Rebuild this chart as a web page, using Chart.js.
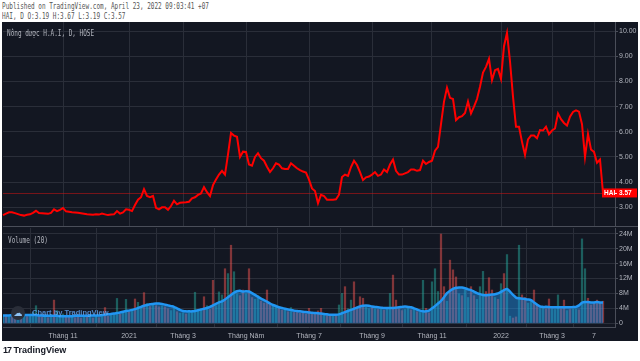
<!DOCTYPE html>
<html><head><meta charset="utf-8">
<script src="https://cdn.jsdelivr.net/npm/chart.js@4"></script>
<style>
html,body{margin:0;padding:0;background:#fff;width:640px;height:361px;overflow:hidden;position:relative;font-family:"DejaVu Sans Mono",monospace}
.t{position:absolute;white-space:nowrap;font-size:9px;line-height:10px;transform-origin:0 0;transform:scaleX(0.67);color:#555}
#frame{position:absolute;left:2px;top:22px;width:636px;height:319px;background:#131722}
.wrap{position:absolute;left:0;width:640px}
#sep{position:absolute;left:3px;top:226px;width:635px;height:1px;background:#4a4e59}
#wm{position:absolute;left:11px;top:306px;width:14px;height:14px;border-radius:7px;background:#2a2e39;color:#8fc3f5;font:9px "DejaVu Sans";line-height:14px;text-align:center}
#wmt{position:absolute;left:32px;top:308px;font:bold 7.5px "Liberation Sans";color:rgba(100,165,240,0.8);white-space:nowrap}
#logo{position:absolute;left:3px;top:345px;font:bold 9px "Liberation Sans";color:#131722;white-space:nowrap}
</style></head><body>
<div class="t" style="left:2px;top:1px">Published on TradingView.com, April 23, 2022 09:03:41 +07</div>
<div class="t" style="left:2px;top:11px">HAI, D O:3.19 H:3.67 L:3.19 C:3.57</div>
<div id="frame"></div>
<div class="wrap" style="top:22px;height:205px"><canvas id="c1"></canvas></div>
<div class="wrap" style="top:227px;height:114px"><canvas id="c2"></canvas></div>
<div id="sep"></div>
<div class="t" style="left:7px;top:28px;color:#b2b5be">Nông dược H.A.I, D, HOSE</div>
<div class="t" style="left:8px;top:235px;color:#b2b5be">Volume (20)</div>
<div id="wm">☁</div>
<div id="wmt">Chart by TradingView</div>
<div id="logo"><span style="letter-spacing:-1px">17</span> TradingView</div>
<script>
const symbol = "HAI";
const lastPrice = 3.57;
const prices = [
2.69,2.75,2.80,2.80,2.77,2.73,2.69,2.67,2.70,2.72,
2.78,2.86,2.77,2.76,2.75,2.74,2.78,2.92,2.85,2.90,
2.97,2.84,2.82,2.80,2.79,2.78,2.76,2.74,2.72,2.71,
2.70,2.72,2.71,2.75,2.72,2.69,2.71,2.72,2.85,2.75,
2.80,2.92,2.90,2.85,3.09,3.30,3.40,3.72,3.45,3.40,
3.45,2.98,2.92,3.00,3.00,2.90,3.05,3.26,3.12,3.18,
3.19,3.20,3.22,3.36,3.40,3.49,3.55,3.80,3.60,3.45,
3.88,4.10,4.30,4.45,4.30,5.10,5.95,5.85,5.80,5.00,
5.21,5.20,4.70,4.65,5.00,5.15,4.95,4.85,4.61,4.40,
4.55,4.75,4.70,4.55,4.52,4.52,4.75,4.65,4.55,4.48,
4.42,4.38,4.10,3.75,3.65,3.16,3.50,3.45,3.30,3.30,
3.30,3.32,3.50,4.20,4.30,4.25,4.60,4.85,4.68,4.40,
4.08,4.19,4.22,4.30,4.40,4.25,4.30,4.50,4.40,4.70,
4.90,4.45,4.30,4.30,4.35,4.40,4.50,4.50,4.45,4.48,
4.85,4.72,4.80,4.85,5.25,5.40,6.30,7.20,7.75,7.35,
7.30,6.46,6.58,6.62,6.75,7.20,6.73,7.00,7.30,7.79,
8.35,8.58,8.90,8.05,8.45,8.50,8.10,9.40,9.93,8.80,
7.40,6.20,6.20,5.60,5.08,5.70,5.85,5.85,5.74,6.07,
6.05,6.20,5.90,6.05,6.13,6.73,6.50,6.35,6.25,6.60,
6.79,6.85,6.80,6.30,5.00,5.91,5.30,5.20,4.77,4.90,
3.57];
const volumes = [ // millions
2.0,2.4,1.8,2.2,1.6,2.0,1.7,2.3,1.9,2.5,
3.0,4.8,2.2,1.8,2.0,1.6,2.4,6.3,3.5,2.2,
2.6,1.8,1.7,2.0,1.6,1.9,1.5,2.1,1.7,1.8,
1.5,2.0,1.6,2.3,4.3,2.0,2.2,2.8,6.75,2.5,
3.0,6.5,3.2,3.5,6.6,5.7,4.5,8.3,5.4,4.6,
5.0,4.8,4.5,4.8,4.5,4.0,3.5,4.2,3.2,2.8,
2.9,2.6,3.0,3.2,8.4,3.5,3.6,7.2,4.8,3.8,
11.6,4.8,8.5,7.7,14.7,13.4,21.0,13.9,8.0,7.5,
9.0,8.0,14.7,7.0,6.5,7.5,6.0,5.5,9.0,5.5,
4.8,5.0,4.2,3.6,3.8,3.2,4.3,3.0,3.0,2.8,
3.2,2.6,4.1,2.5,2.8,3.4,4.1,2.5,2.2,2.0,
2.1,2.0,5.0,8.1,9.9,4.0,6.3,11.2,4.5,7.2,
6.8,4.5,4.0,4.3,4.0,3.8,4.2,3.6,4.0,8.1,
13.0,6.3,4.0,3.5,3.8,4.2,3.7,3.8,3.2,3.0,
11.6,4.1,2.9,11.2,14.7,8.6,24.0,9.9,6.0,17.0,
14.4,12.5,8.0,7.5,9.0,7.0,9.9,7.5,6.5,9.9,
14.0,8.6,12.3,9.0,7.0,6.5,10.7,13.4,18.5,2.0,
1.5,1.8,21.0,7.7,7.0,5.5,6.0,9.0,5.0,4.0,
4.5,4.0,6.6,4.0,3.8,7.7,4.0,6.3,3.5,3.8,
4.0,3.9,3.7,22.7,14.7,6.8,5.0,5.5,6.3,5.5,
6.0];
const volDir = ("ududdududu"+"uuddududuu"+"uddudddudu"+"dududduuud"+"uududuudud"+
"uddudduudu"+"uduuuuudud"+"duuududuud"+"dudduudddd"+"uuddududdd"+
"dddddddudd"+"uduuduuddd"+"duudududuu"+"dddduududu"+"udduuuddud"+
"dduduudduu"+"udddududuu"+"ddudduuddu"+"udduuuddud"+"uuduuddddd"+"d").split("");
const volMA = [ // 20-day moving average of volume, millions
2.1,2.1,2.1,2.2,2.2,2.2,2.2,2.2,2.2,2.2,
2.2,2.2,2.1,2.1,2.0,2.0,2.0,2.0,2.0,1.9,
1.9,1.9,1.9,1.9,2.0,2.0,2.0,2.0,2.0,2.1,
2.1,2.1,2.1,2.2,2.3,2.4,2.5,2.6,2.75,2.9,
3.1,3.3,3.4,3.6,3.8,4.1,4.4,4.7,4.9,5.1,
5.2,5.3,5.3,5.2,5.0,4.8,4.6,4.4,4.0,3.6,
3.3,3.2,3.2,3.2,3.3,3.5,3.7,3.9,4.1,4.4,
4.8,5.2,5.6,5.9,6.4,7.0,7.6,8.2,8.6,8.7,
8.5,8.6,8.5,8.1,7.6,7.1,6.6,6.2,5.8,5.3,
4.9,4.6,4.3,4.1,3.9,3.7,3.6,3.4,3.3,3.2,
3.1,3.0,2.9,2.8,2.75,2.7,2.6,2.5,2.4,2.3,
2.3,2.3,2.4,2.7,3.0,3.3,3.6,3.9,4.2,4.5,
4.7,4.8,4.7,4.5,4.4,4.3,4.2,4.1,4.1,4.1,
4.1,4.2,4.3,4.4,4.5,4.4,4.3,4.0,3.7,3.4,
3.2,3.2,3.4,4.0,4.6,5.3,6.0,7.0,8.1,8.7,
9.2,9.5,9.6,9.6,9.4,9.1,8.9,8.5,8.1,7.8,
7.6,7.5,7.6,7.7,7.8,8.0,8.4,8.9,9.2,8.5,
7.6,6.9,6.7,6.6,6.5,6.4,6.2,5.6,5.0,4.5,
4.4,4.4,4.35,4.3,4.3,4.3,4.3,4.3,4.3,4.3,
4.35,4.4,4.8,5.5,5.7,5.7,5.6,5.6,5.7,5.6,
5.6];
const slots = 205; // daily slots incl. right margin
const categories = Array.from({length: slots}, (_, i) => "d" + i);
const tickIdx  = [20, 42, 60, 81, 102, 123, 143, 166, 183, 197];
const tickText = ["Tháng 11", "2021", "Tháng 3", "Tháng Năm", "Tháng 7", "Tháng 9", "Tháng 11", "2022", "Tháng 3", "7"];
const priceTicks = [3, 4, 5, 6, 7, 8, 9, 10];
const volTicks = [0, 4, 8, 12, 16, 20, 24];
const volTickText = ["0", "4M", "8M", "12M", "16M", "20M", "24M"];

// ---- styling ----
const GRID = "#2a2e39";
const AXIS = "#4a4e59";
const TXT = "#b2b5be";
const tickFont = {family: "Liberation Sans", size: 7};
Chart.defaults.animation = false;

function xScale(showLabels) {
  return {
    type: "category", offset: false,
    grid: {color: GRID, drawTicks: false},
    border: {display: showLabels, color: AXIS},
    ticks: {display: showLabels, autoSkip: false, maxRotation: 0, color: TXT, font: tickFont, padding: 5,
            callback: (v, i) => tickText[i]},
    afterBuildTicks: s => { s.ticks = tickIdx.map(v => ({value: v})); },
    afterFit: s => { s.height = showLabels ? 14 : 0; s.paddingLeft = 0; s.paddingRight = 0; }
  };
}
function yFit(s) { s.width = 25; s.paddingTop = 0; s.paddingBottom = 0; }

const priceLinePlugin = {
  id: "priceLine",
  beforeDatasetsDraw(chart) {
    const {ctx, chartArea: a, scales: {y}} = chart;
    const py = Math.round(y.getPixelForValue(lastPrice)) + 0.5;
    ctx.save();
    ctx.strokeStyle = "rgba(200,20,20,0.55)";
    ctx.lineWidth = 1;
    ctx.beginPath(); ctx.moveTo(a.left, py); ctx.lineTo(a.right, py); ctx.stroke();
    ctx.restore();
  },
  afterDraw(chart) {
    const {ctx, scales: {y}} = chart;
    const py = y.getPixelForValue(lastPrice);
    ctx.save();
    ctx.fillStyle = "#ff0000";
    ctx.fillRect(602, py - 4.5, 35, 9);
    ctx.fillStyle = "#ffffff";
    ctx.font = "bold 6.5px 'Liberation Sans'";
    ctx.textBaseline = "middle";
    ctx.fillText(symbol, 604, py + 0.5);
    ctx.fillRect(615, py, 2, 1);
    ctx.fillText(lastPrice.toFixed(2), 619, py + 0.5);
    ctx.restore();
  }
};

new Chart(document.getElementById("c1"), {
  type: "line",
  data: {labels: categories, datasets: [{
    data: prices, borderColor: "#ff0000", borderWidth: 2, pointRadius: 0, tension: 0, fill: false
  }]},
  options: {
    responsive: true, maintainAspectRatio: false,
    layout: {padding: {left: 3, top: 0, right: 0, bottom: 0}},
    plugins: {legend: {display: false}, tooltip: {enabled: false}},
    scales: {
      x: xScale(false),
      y: {position: "right", min: 2.2173, max: 10.3615,
          afterBuildTicks: s => { s.ticks = priceTicks.map(v => ({value: v})); },
          ticks: {color: TXT, font: tickFont, padding: 1, callback: v => Number(v).toFixed(2)},
          grid: {color: GRID, tickLength: 3, tickColor: AXIS},
          border: {color: AXIS},
          afterFit: yFit}
    }
  },
  plugins: [priceLinePlugin]
});

new Chart(document.getElementById("c2"), {
  data: {labels: categories, datasets: [
    {type: "line", data: volMA, borderColor: "#2196f3", borderWidth: 2.5, pointRadius: 0, tension: 0.3,
     fill: "origin", backgroundColor: "rgba(33,150,243,0.45)", order: 0},
    {type: "bar", data: volumes, order: 1, barPercentage: 0.75, categoryPercentage: 1,
     backgroundColor: volDir.map(d => d === "u" ? "rgba(38,166,154,0.5)" : "rgba(239,83,80,0.5)")}
  ]},
  options: {
    responsive: true, maintainAspectRatio: false,
    layout: {padding: {left: 3, top: 1, right: 0, bottom: 0}},
    plugins: {legend: {display: false}, tooltip: {enabled: false}},
    scales: {
      x: xScale(true),
      y: {position: "right", min: -0.991, max: 25.527,
          afterBuildTicks: s => { s.ticks = volTicks.map(v => ({value: v})); },
          ticks: {color: TXT, font: tickFont, padding: 1, callback: (v, i) => volTickText[i]},
          grid: {color: GRID, tickLength: 3, tickColor: AXIS},
          border: {color: AXIS},
          afterFit: yFit}
    }
  }
});
</script>
</body></html>
